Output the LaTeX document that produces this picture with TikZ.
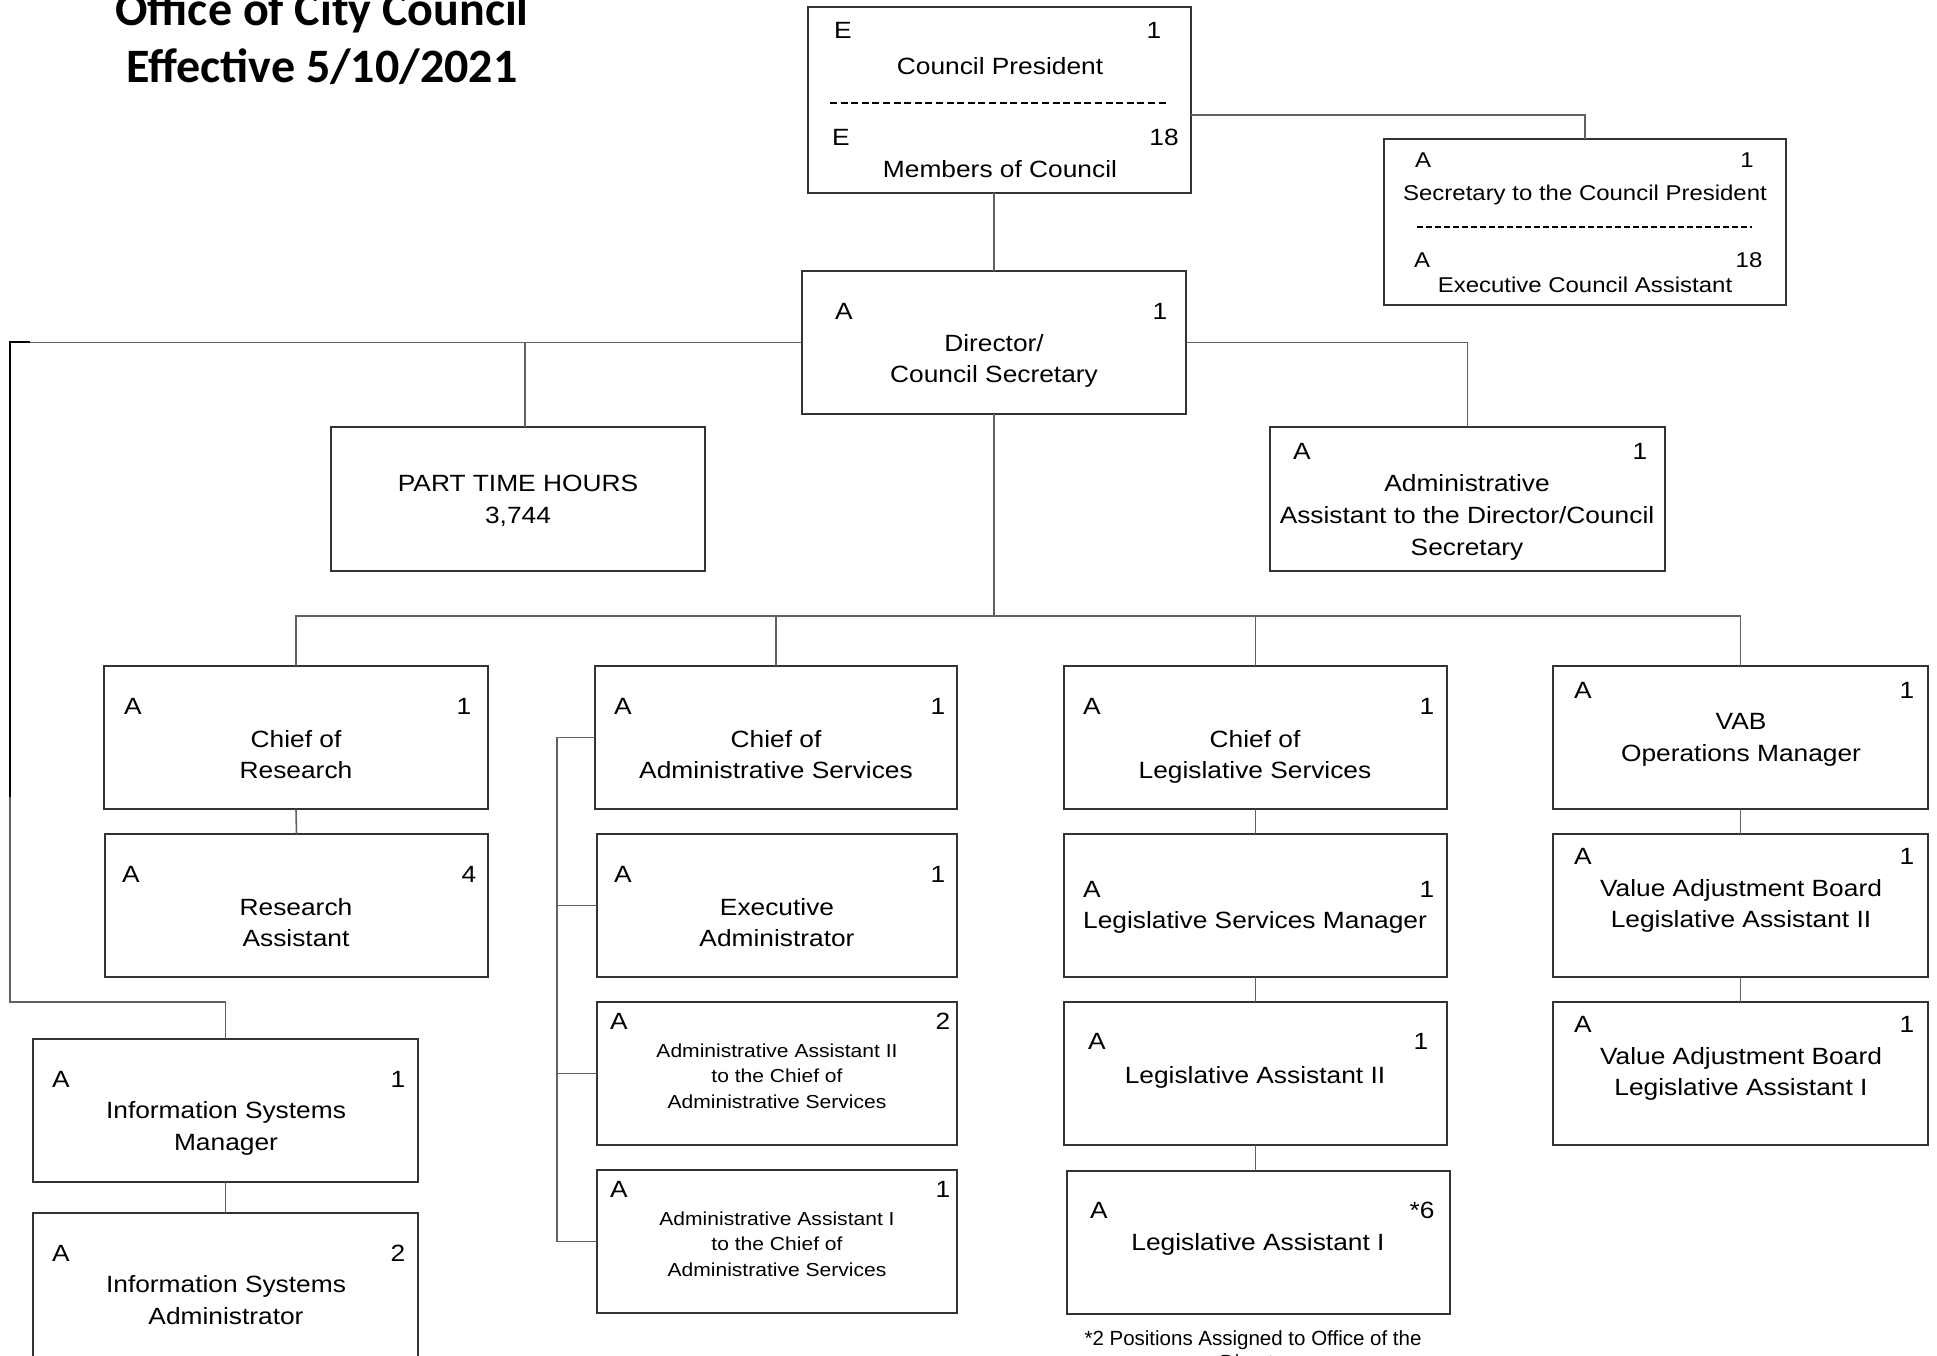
\documentclass[tikz,border=0pt]{standalone}
\usepackage{fontspec}
\setmainfont{Liberation Sans}[FakeStretch=1.12]
\newfontfamily\titlefont{Carlito}
\newfontfamily\notefont{Liberation Sans}
\usetikzlibrary{calc}
\newcounter{tn}
\newcommand{\txl}[4][]{\stepcounter{tn}\node[txt,anchor=base,#1] (t\arabic{tn}) at (#2,#3) {#4};}
\newcommand{\bx}[5]{\node[box, minimum width={#4-#2}, minimum height={#5-#3}] (#1) at ({(#2+#4)/2},{(#3+#5)/2}) {};}
\tikzset{
  box/.style={draw=black!80, line width=1.6pt, inner sep=0pt, outer sep=0pt, rectangle},
  conn/.style={draw=black!62, line width=1.6pt},
  txt/.style={inner sep=0pt, font=\fontsize{23.5}{28}\selectfont},
  smf/.style={font=\fontsize{18.8}{22}\selectfont},
  secf/.style={font=\fontsize{21.4}{25}\selectfont},
  sepline/.style={draw=black, line width=2.4pt, dash pattern=on 7pt off 3.6pt},
  sepline2/.style={draw=black, line width=2pt, dash pattern=on 6pt off 3pt},
}
\begin{document}
\begin{tikzpicture}[x=1pt,y=-1pt]
\fill[white] (0,0) rectangle (1937,1355);
\useasboundingbox (0,0) rectangle (1937,1355);

% title
\node[anchor=base, inner sep=0pt, font=\titlefont\bfseries\fontsize{48}{56}\selectfont] (title1) at (322,25) {Office of City Council};
\node[anchor=base, inner sep=0pt, font=\titlefont\bfseries\fontsize{48}{56}\selectfont] (title2) at (322,82) {Effective 5/10/2021};

% boxes
\bx{cp}{808}{7}{1191}{193}
\bx{sec}{1384}{139}{1786}{305}
\bx{dir}{802}{271}{1186}{414}
\bx{pth}{331}{427}{705}{571}
\bx{aad}{1270}{427}{1665}{571}
\bx{res}{104}{666}{488}{809}
\bx{cas}{595}{666}{957}{809}
\bx{cls}{1064}{666}{1447}{809}
\bx{vab}{1553}{666}{1928}{809}
\bx{ra}{105}{834}{488}{977}
\bx{ea}{597}{834}{957}{977}
\bx{lsm}{1064}{834}{1447}{977}
\bx{vlb}{1553}{834}{1928}{977}
\bx{aab}{597}{1002}{957}{1145}
\bx{la2}{1064}{1002}{1447}{1145}
\bx{vla}{1553}{1002}{1928}{1145}
\bx{aaa}{597}{1170}{957}{1313}
\bx{laa}{1067}{1171}{1450}{1314}
\bx{ism}{33}{1039}{418}{1182}
\bx{isa}{33}{1213}{418}{1400}

% connectors
\coordinate (cpR) at (1191,115);
\draw[conn] (cpR) -| (sec.north);
\draw[conn] (dir.north) -- (dir.north |- cp.south);
\coordinate (lc) at (10,1002);
\draw[conn] (dir.west) -| (lc) -| (ism.north);
\coordinate (lk1) at (10,797);
\coordinate (lk2) at (30,342);
\draw[black, line width=2.8pt] (lk1) |- (lk2);
\coordinate (ptop) at (525,427);
\draw[conn] (ptop) -- (ptop |- dir.west);
\draw[conn] (dir.east) -| (aad.north);
\coordinate (bus) at (994,616);
\draw[conn] (dir.south) -- (bus);
\draw[conn] (res.north) -- (res.north |- bus) -- (vab.north |- bus) -- (vab.north);
\draw[conn] (cas.north) -- (cas.north |- bus);
\draw[conn] (cls.north) -- (cls.north |- bus);
\draw[conn] (res.south) -- (ra.north);
\draw[conn] (ism.south) -- (isa.north);
\draw[conn] (cls.south) -- (lsm.north);
\draw[conn] (lsm.south) -- (la2.north);
\draw[conn] (la2.south) -- (la2.south |- laa.north);
\draw[conn] (vab.south) -- (vlb.north);
\draw[conn] (vlb.south) -- (vla.north);
\coordinate (bk) at (557,0);
\draw[conn] (cas.west) -- (cas.west -| bk) -- (aaa.west -| bk) -- (aaa.west);
\draw[conn] (ea.west) -- (ea.west -| bk);
\draw[conn] (aab.west) -- (aab.west -| bk);

% Council President box
\txl{843}{38}{E} \txl{1154}{38}{1}
\txl{1000}{74}{Council President}
\draw[sepline] (830,103) -- (1169,103);
\txl{841}{145}{E} \txl{1164}{145}{18}
\txl{1000}{177}{Members of Council}

% Secretary box
\txl[secf]{1423}{167}{A} \txl[secf]{1747}{167}{1}
\txl[secf]{1585}{200}{Secretary to the Council President}
\draw[sepline2] (1417,227) -- (1752,227);
\txl[secf]{1422}{267}{A} \txl[secf]{1749}{267}{18}
\txl[secf]{1585}{292}{Executive Council Assistant}

% Director
\txl{844}{319}{A} \txl{1160}{319}{1}
\txl{994}{351}{Director/}
\txl{994}{382}{Council Secretary}

% Part time
\txl{518}{491}{PART TIME HOURS}
\txl{518}{523}{3,744}

% Admin assistant to director
\txl{1302}{459}{A} \txl{1640}{459}{1}
\txl{1467}{491}{Administrative}
\txl{1467}{523}{Assistant to the Director/Council}
\txl{1467}{555}{Secretary}

% Row 1
\txl{133}{714}{A} \txl{464}{714}{1}
\txl{296}{747}{Chief of} \txl{296}{778}{Research}
\txl{623}{714}{A} \txl{938}{714}{1}
\txl{776}{747}{Chief of} \txl{776}{778}{Administrative Services}
\txl{1092}{714}{A} \txl{1427}{714}{1}
\txl{1255}{747}{Chief of} \txl{1255}{778}{Legislative Services}
\txl{1583}{698}{A} \txl{1907}{698}{1}
\txl{1741}{729}{VAB} \txl{1741}{761}{Operations Manager}

% Row 2
\txl{131}{882}{A} \txl{469}{882}{4}
\txl{296}{915}{Research} \txl{296}{946}{Assistant}
\txl{623}{882}{A} \txl{938}{882}{1}
\txl{777}{915}{Executive} \txl{777}{946}{Administrator}
\txl{1092}{897}{A} \txl{1427}{897}{1}
\txl{1255}{928}{Legislative Services Manager}
\txl{1583}{864}{A} \txl{1907}{864}{1}
\txl{1741}{896}{Value Adjustment Board} \txl{1741}{927}{Legislative Assistant II}

% Row 3
\txl{619}{1029}{A} \txl{943}{1029}{2}
\txl[smf]{777}{1057}{Administrative Assistant II}
\txl[smf]{777}{1082}{to the Chief of}
\txl[smf]{777}{1108}{Administrative Services}
\txl{1097}{1049}{A} \txl{1421}{1049}{1}
\txl{1255}{1083}{Legislative Assistant II}
\txl{1583}{1032}{A} \txl{1907}{1032}{1}
\txl{1741}{1064}{Value Adjustment Board} \txl{1741}{1095}{Legislative Assistant I}

% Row 4
\txl{619}{1197}{A} \txl{943}{1197}{1}
\txl[smf]{777}{1225}{Administrative Assistant I}
\txl[smf]{777}{1250}{to the Chief of}
\txl[smf]{777}{1276}{Administrative Services}
\txl{1099}{1218}{A} \txl{1422}{1218}{*6}
\txl{1258}{1250}{Legislative Assistant I}

% Information systems
\txl{61}{1087}{A} \txl{398}{1087}{1}
\txl{226}{1118}{Information Systems} \txl{226}{1150}{Manager}
\txl{61}{1261}{A} \txl{398}{1261}{2}
\txl{226}{1292}{Information Systems} \txl{226}{1324}{Administrator}

% footnote
\node[anchor=base, inner sep=0pt, font=\notefont\fontsize{20.5}{24}\selectfont] (fn1) at (1253,1345) {*2 Positions Assigned to Office of the};
\node[anchor=base, inner sep=0pt, font=\notefont\fontsize{20.5}{24}\selectfont] (fn2) at (1256,1369) {Director};
\end{tikzpicture}
\end{document}
